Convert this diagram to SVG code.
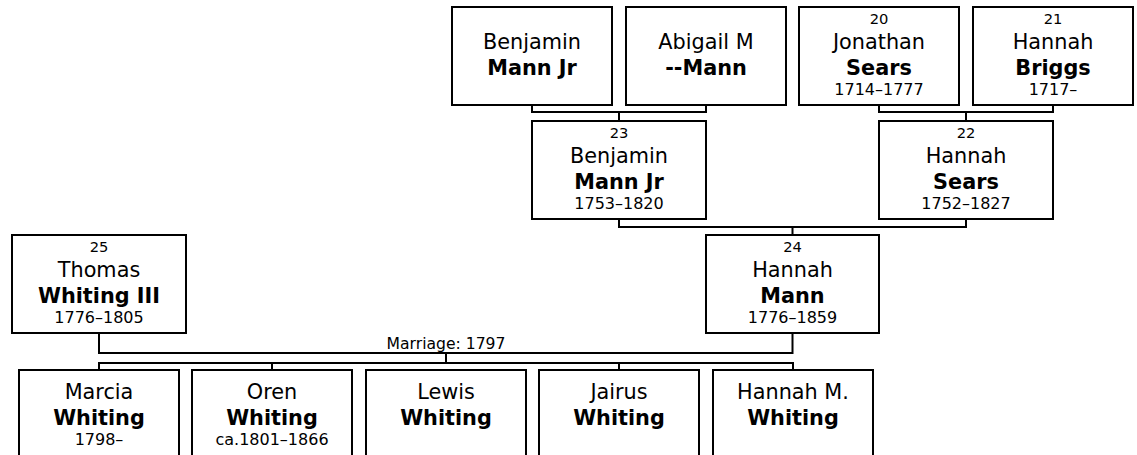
<svg xmlns="http://www.w3.org/2000/svg" width="1137" height="455" viewBox="0 0 1137 455">
<style>
  .box { fill: #ffffff; stroke: #000000; stroke-width: 2; }
  .ln { fill: none; stroke: #000000; stroke-width: 2; }
  text { font-family: "DejaVu Sans", Verdana, sans-serif; fill: #000000; text-anchor: middle; }
  .num { font-size: 14.7px; }
  .nm { font-size: 20.8px; }
  .sn { font-size: 20.8px; font-weight: bold; }
  .dt { font-size: 16px; }
  .lbl { font-size: 15.6px; }
</style>
<rect width="1137" height="455" fill="#ffffff"/>
<g id="connectors">
  <path class="ln" d="M532,105 V112 H706 V105 M619,112 V121"/>
  <path class="ln" d="M879,105 V112 H1053 V105 M966,112 V121"/>
  <path class="ln" d="M619,219 V227 H966 V219 M792.5,227 V235"/>
  <path class="ln" d="M99,333 V353 H792.5 V333"/>
  <path class="ln" d="M446,353 V363 M99,370 V363 H793 V370 M272,363 V370 M619,363 V370"/>
  <text class="lbl" x="446" y="348.5">Marriage: 1797</text>
</g>
<g id="p_benjamin_sr">
  <rect class="box" x="452" y="7" width="160" height="98"/>
  <text class="nm" x="532" y="49">Benjamin</text>
  <text class="sn" x="532" y="74.5">Mann Jr</text>
</g>
<g id="p_abigail">
  <rect class="box" x="626" y="7" width="160" height="98"/>
  <text class="nm" x="706" y="49">Abigail M</text>
  <text class="sn" x="706" y="74.5">--Mann</text>
</g>
<g id="p20">
  <rect class="box" x="799" y="7" width="160" height="98"/>
  <text class="num" x="879" y="23.5">20</text>
  <text class="nm" x="879" y="48.5">Jonathan</text>
  <text class="sn" x="879" y="74.5">Sears</text>
  <text class="dt" x="879" y="95">1714–1777</text>
</g>
<g id="p21">
  <rect class="box" x="973" y="7" width="160" height="98"/>
  <text class="num" x="1053" y="23.5">21</text>
  <text class="nm" x="1053" y="48.5">Hannah</text>
  <text class="sn" x="1053" y="74.5">Briggs</text>
  <text class="dt" x="1053" y="95">1717–</text>
</g>
<g id="p23">
  <rect class="box" x="532" y="121" width="174" height="98"/>
  <text class="num" x="619" y="137.5">23</text>
  <text class="nm" x="619" y="162.5">Benjamin</text>
  <text class="sn" x="619" y="188.5">Mann Jr</text>
  <text class="dt" x="619" y="209">1753–1820</text>
</g>
<g id="p22">
  <rect class="box" x="879" y="121" width="174" height="98"/>
  <text class="num" x="966" y="137.5">22</text>
  <text class="nm" x="966" y="162.5">Hannah</text>
  <text class="sn" x="966" y="188.5">Sears</text>
  <text class="dt" x="966" y="209">1752–1827</text>
</g>
<g id="p25">
  <rect class="box" x="12" y="235" width="174" height="98"/>
  <text class="num" x="99" y="251.5">25</text>
  <text class="nm" x="99" y="276.5">Thomas</text>
  <text class="sn" x="99" y="302.5">Whiting III</text>
  <text class="dt" x="99" y="323">1776–1805</text>
</g>
<g id="p24">
  <rect class="box" x="706" y="235" width="173" height="98"/>
  <text class="num" x="792.5" y="251.5">24</text>
  <text class="nm" x="792.5" y="276.5">Hannah</text>
  <text class="sn" x="792.5" y="302.5">Mann</text>
  <text class="dt" x="792.5" y="323">1776–1859</text>
</g>
<g id="c_marcia">
  <rect class="box" x="19" y="370" width="160" height="98"/>
  <text class="nm" x="99" y="399">Marcia</text>
  <text class="sn" x="99" y="425">Whiting</text>
  <text class="dt" x="99" y="445">1798–</text>
</g>
<g id="c_oren">
  <rect class="box" x="192" y="370" width="160" height="98"/>
  <text class="nm" x="272" y="399">Oren</text>
  <text class="sn" x="272" y="425">Whiting</text>
  <text class="dt" x="272" y="445">ca.1801–1866</text>
</g>
<g id="c_lewis">
  <rect class="box" x="366" y="370" width="160" height="98"/>
  <text class="nm" x="446" y="399">Lewis</text>
  <text class="sn" x="446" y="425">Whiting</text>
</g>
<g id="c_jairus">
  <rect class="box" x="539" y="370" width="160" height="98"/>
  <text class="nm" x="619" y="399">Jairus</text>
  <text class="sn" x="619" y="425">Whiting</text>
</g>
<g id="c_hannah_m">
  <rect class="box" x="713" y="370" width="160" height="98"/>
  <text class="nm" x="793" y="399">Hannah M.</text>
  <text class="sn" x="793" y="425">Whiting</text>
</g>
</svg>
